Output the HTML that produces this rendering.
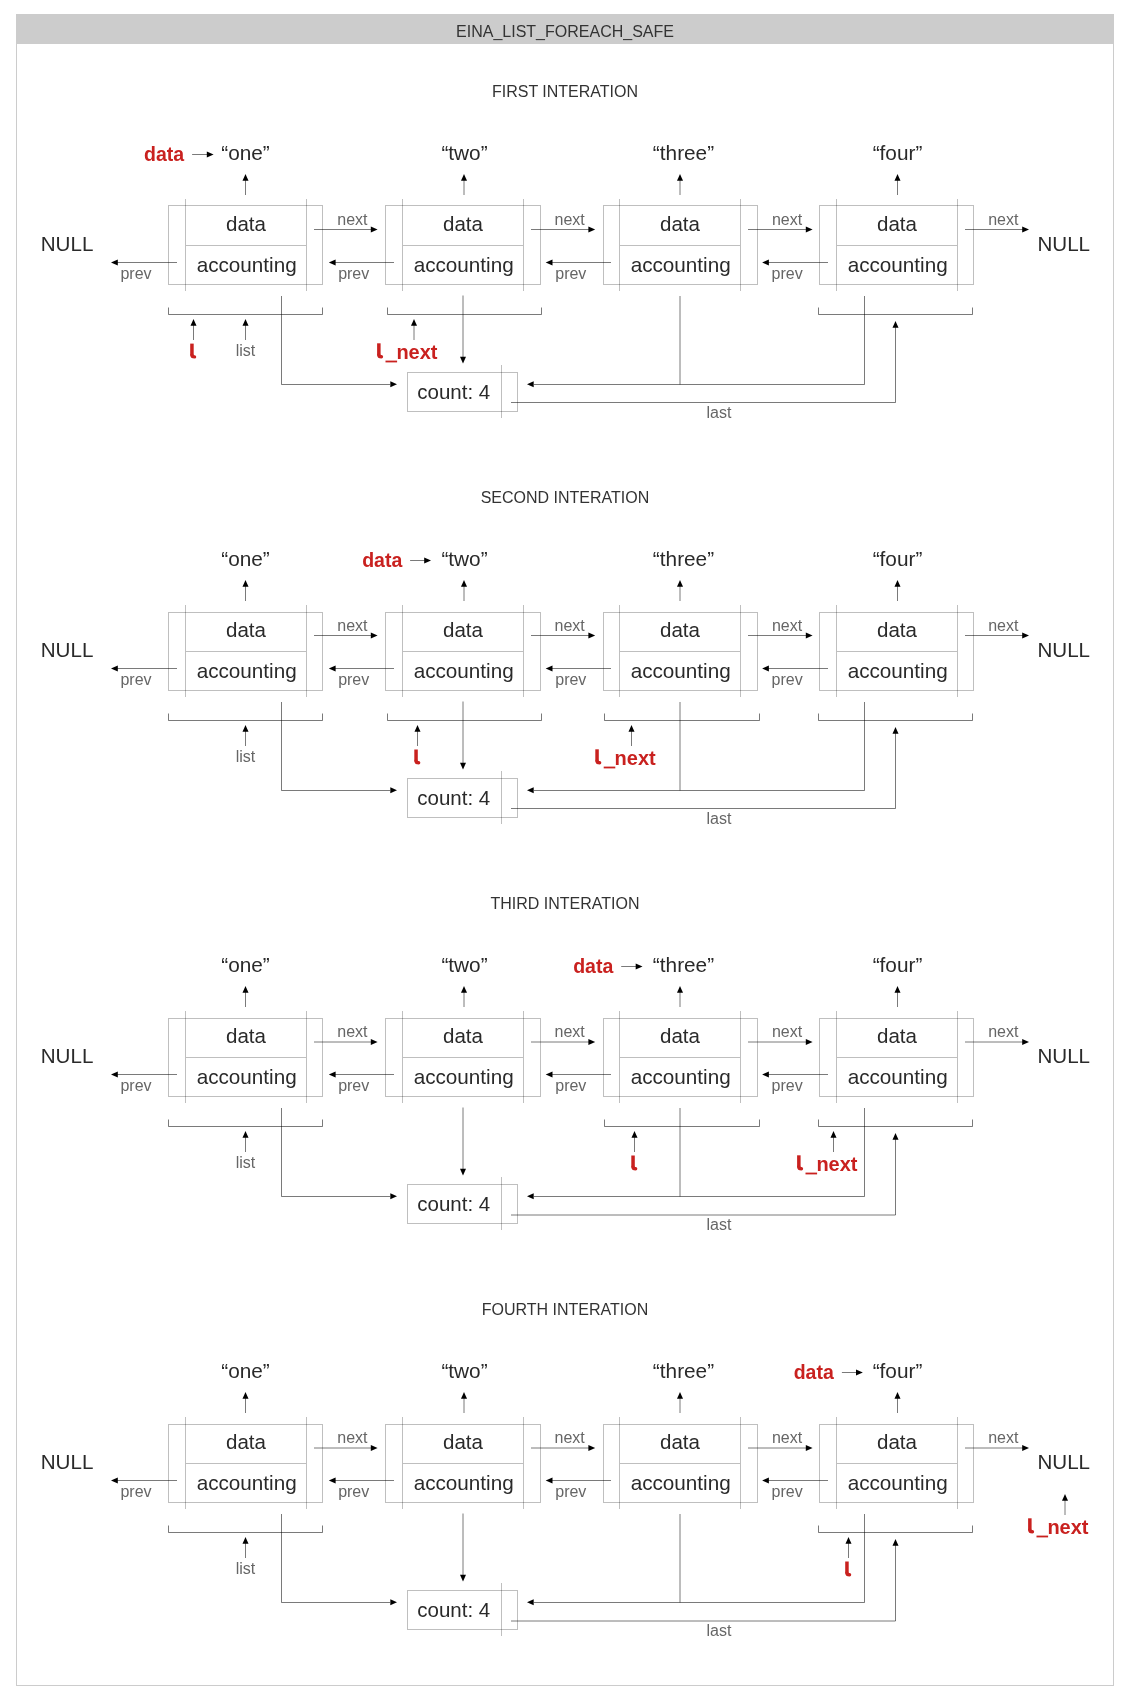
<!DOCTYPE html><html><head><meta charset="utf-8"><title>EINA_LIST_FOREACH_SAFE</title><style>html,body{margin:0;padding:0;background:#fff;overflow:hidden;width:1130px;height:1700px;}svg{display:block;will-change:transform;}text{font-family:"Liberation Sans",sans-serif;}</style></head><body><svg width="1130" height="1700" viewBox="0 0 1130 1700" font-family="Liberation Sans, sans-serif"><rect width="1130" height="1700" fill="#fff"/><rect x="16" y="14" width="1098" height="30" fill="#ccc"/><rect x="16.5" y="14.5" width="1097" height="1671" fill="none" stroke="#ccc"/><text x="565" y="36.8" font-size="16" fill="#333" text-anchor="middle">EINA_LIST_FOREACH_SAFE</text><g transform="translate(0 0)"><text x="565" y="97" font-size="16" fill="#333" text-anchor="middle">FIRST INTERATION</text><text x="245.5" y="160" font-size="20.8" fill="#2a2a2a" text-anchor="middle">“one”</text><path d="M245.5 179.8V195" stroke="#000" stroke-opacity=".52"/><path d="M245.5 174L242.5 180.8L248.5 180.8Z" fill="#000"/><text x="464.5" y="160" font-size="20.8" fill="#2a2a2a" text-anchor="middle">“two”</text><path d="M464 179.8V195" stroke="#000" stroke-opacity=".52"/><path d="M464 174L461.0 180.8L467.0 180.8Z" fill="#000"/><text x="683.5" y="160" font-size="20.8" fill="#2a2a2a" text-anchor="middle">“three”</text><path d="M680 179.8V195" stroke="#000" stroke-opacity=".52"/><path d="M680 174L677.0 180.8L683.0 180.8Z" fill="#000"/><text x="897.5" y="160" font-size="20.8" fill="#2a2a2a" text-anchor="middle">“four”</text><path d="M897.5 179.8V195" stroke="#000" stroke-opacity=".52"/><path d="M897.5 174L894.5 180.8L900.5 180.8Z" fill="#000"/><text x="144.1" y="161" font-size="19.5" fill="#c9211f" text-anchor="start" font-weight="bold">data</text><path d="M192.1 154.5H207.79999999999998" stroke="#000" stroke-opacity=".52"/><path d="M213.6 154.5L206.79999999999998 151.5L206.79999999999998 157.5Z" fill="#000"/><rect x="168.5" y="205.5" width="154" height="79.0" fill="none" stroke="#000" stroke-opacity="0.25"/><path d="M185.5 199V291M306.5 199V291M186 245.5H306" fill="none" stroke="#000" stroke-opacity="0.25"/><text x="246.0" y="231" font-size="20.5" fill="#2a2a2a" text-anchor="middle">data</text><text x="246.7" y="272" font-size="20.7" fill="#2a2a2a" text-anchor="middle">accounting</text><rect x="385.5" y="205.5" width="155" height="79.0" fill="none" stroke="#000" stroke-opacity="0.25"/><path d="M402.5 199V291M523.5 199V291M403 245.5H523" fill="none" stroke="#000" stroke-opacity="0.25"/><text x="463.0" y="231" font-size="20.5" fill="#2a2a2a" text-anchor="middle">data</text><text x="463.7" y="272" font-size="20.7" fill="#2a2a2a" text-anchor="middle">accounting</text><rect x="603.5" y="205.5" width="154" height="79.0" fill="none" stroke="#000" stroke-opacity="0.25"/><path d="M619.5 199V291M740.5 199V291M620 245.5H740" fill="none" stroke="#000" stroke-opacity="0.25"/><text x="680.0" y="231" font-size="20.5" fill="#2a2a2a" text-anchor="middle">data</text><text x="680.7" y="272" font-size="20.7" fill="#2a2a2a" text-anchor="middle">accounting</text><rect x="819.5" y="205.5" width="154" height="79.0" fill="none" stroke="#000" stroke-opacity="0.25"/><path d="M836.5 199V291M957.5 199V291M837 245.5H957" fill="none" stroke="#000" stroke-opacity="0.25"/><text x="897.0" y="231" font-size="20.5" fill="#2a2a2a" text-anchor="middle">data</text><text x="897.7" y="272" font-size="20.7" fill="#2a2a2a" text-anchor="middle">accounting</text><path d="M314 229.5H371.8" stroke="#000" stroke-opacity=".52"/><path d="M377.6 229.5L370.8 226.5L370.8 232.5Z" fill="#000"/><text x="352.4" y="224.5" font-size="16" fill="#666" text-anchor="middle">next</text><path d="M531 229.5H589.4000000000001" stroke="#000" stroke-opacity=".52"/><path d="M595.2 229.5L588.4000000000001 226.5L588.4000000000001 232.5Z" fill="#000"/><text x="569.7" y="224.5" font-size="16" fill="#666" text-anchor="middle">next</text><path d="M748 229.5H806.8000000000001" stroke="#000" stroke-opacity=".52"/><path d="M812.6 229.5L805.8000000000001 226.5L805.8000000000001 232.5Z" fill="#000"/><text x="787" y="224.5" font-size="16" fill="#666" text-anchor="middle">next</text><path d="M965 229.5H1023.2" stroke="#000" stroke-opacity=".52"/><path d="M1029 229.5L1022.2 226.5L1022.2 232.5Z" fill="#000"/><text x="1003.3" y="224.5" font-size="16" fill="#666" text-anchor="middle">next</text><path d="M116.8 262.5H177" stroke="#000" stroke-opacity=".52"/><path d="M111 262.5L117.8 259.5L117.8 265.5Z" fill="#000"/><text x="136" y="278.5" font-size="16" fill="#666" text-anchor="middle">prev</text><path d="M334.6 262.5H394" stroke="#000" stroke-opacity=".52"/><path d="M328.8 262.5L335.6 259.5L335.6 265.5Z" fill="#000"/><text x="353.7" y="278.5" font-size="16" fill="#666" text-anchor="middle">prev</text><path d="M551.5 262.5H611" stroke="#000" stroke-opacity=".52"/><path d="M545.7 262.5L552.5 259.5L552.5 265.5Z" fill="#000"/><text x="570.8" y="278.5" font-size="16" fill="#666" text-anchor="middle">prev</text><path d="M767.9 262.5H828" stroke="#000" stroke-opacity=".52"/><path d="M762.1 262.5L768.9 259.5L768.9 265.5Z" fill="#000"/><text x="787.1" y="278.5" font-size="16" fill="#666" text-anchor="middle">prev</text><text x="40.7" y="250.8" font-size="20.6" fill="#2a2a2a" text-anchor="start">NULL</text><text x="1037.4" y="250.8" font-size="20.6" fill="#2a2a2a" text-anchor="start">NULL</text><path d="M168.5 307.5V314.5H322.5V307.5" stroke="#000" stroke-opacity=".52" fill="none"/><path d="M387.5 307.5V314.5H541.5V307.5" stroke="#000" stroke-opacity=".52" fill="none"/><path d="M818.5 307.5V314.5H972.5V307.5" stroke="#000" stroke-opacity=".52" fill="none"/><path d="M281.5 296V384.5H390" stroke="#000" stroke-opacity=".52" fill="none"/><path d="M397 384.3L390.3 381.3L390.3 387.3Z" fill="#000"/><path d="M463 295.5V357.7" stroke="#000" stroke-opacity=".52"/><path d="M463 363.5L460.0 356.7L466.0 356.7Z" fill="#000"/><path d="M680 296V384.5" stroke="#000" stroke-opacity=".52" /><path d="M864.5 296V384.5H534" stroke="#000" stroke-opacity=".52" fill="none"/><path d="M527 384.3L533.7 381.3L533.7 387.3Z" fill="#000"/><rect x="407.5" y="372.5" width="110" height="39" fill="none" stroke="#000" stroke-opacity="0.25"/><path d="M501.5 365V418" fill="none" stroke="#000" stroke-opacity="0.25"/><text x="417.3" y="399" font-size="20.5" fill="#2a2a2a" text-anchor="start">count: 4</text><path d="M511 402.5H895.5V327" stroke="#000" stroke-opacity=".52" fill="none"/><path d="M895.5 321L892.5 327.8L898.5 327.8Z" fill="#000"/><text x="719" y="418" font-size="16" fill="#666" text-anchor="middle">last</text><path d="M245.5 324.8V340" stroke="#000" stroke-opacity=".52"/><path d="M245.5 319L242.5 325.8L248.5 325.8Z" fill="#000"/><text x="245.5" y="355.7" font-size="16" fill="#666" text-anchor="middle">list</text><path d="M193.5 324.8V340" stroke="#000" stroke-opacity=".52"/><path d="M193.5 319L190.5 325.8L196.5 325.8Z" fill="#000"/><path d="M191.95 343.6V355.6" stroke="#c9211f" stroke-width="3.5" fill="none"/><path d="M191.95 355.1Q191.95 356.90000000000003 194.54999999999998 356.90000000000003" stroke="#c9211f" stroke-width="3.4" fill="none" stroke-linecap="round"/><path d="M414 324.8V340" stroke="#000" stroke-opacity=".52"/><path d="M414 319L411.0 325.8L417.0 325.8Z" fill="#000"/><path d="M378.85 343.3V355.5" stroke="#c9211f" stroke-width="3.5" fill="none"/><path d="M378.85 355.0Q378.85 356.8 381.45000000000005 356.8" stroke="#c9211f" stroke-width="3.4" fill="none" stroke-linecap="round"/><rect x="385.50" y="360.60" width="11.6" height="1.8" fill="#c9211f"/><text x="396.42" y="358.5" font-size="20" fill="#c9211f" text-anchor="start" font-weight="bold">next</text></g><g transform="translate(0 406)"><text x="565" y="97" font-size="16" fill="#333" text-anchor="middle">SECOND INTERATION</text><text x="245.5" y="160" font-size="20.8" fill="#2a2a2a" text-anchor="middle">“one”</text><path d="M245.5 179.8V195" stroke="#000" stroke-opacity=".52"/><path d="M245.5 174L242.5 180.8L248.5 180.8Z" fill="#000"/><text x="464.5" y="160" font-size="20.8" fill="#2a2a2a" text-anchor="middle">“two”</text><path d="M464 179.8V195" stroke="#000" stroke-opacity=".52"/><path d="M464 174L461.0 180.8L467.0 180.8Z" fill="#000"/><text x="683.5" y="160" font-size="20.8" fill="#2a2a2a" text-anchor="middle">“three”</text><path d="M680 179.8V195" stroke="#000" stroke-opacity=".52"/><path d="M680 174L677.0 180.8L683.0 180.8Z" fill="#000"/><text x="897.5" y="160" font-size="20.8" fill="#2a2a2a" text-anchor="middle">“four”</text><path d="M897.5 179.8V195" stroke="#000" stroke-opacity=".52"/><path d="M897.5 174L894.5 180.8L900.5 180.8Z" fill="#000"/><text x="362.2" y="161" font-size="19.5" fill="#c9211f" text-anchor="start" font-weight="bold">data</text><path d="M410.1 154.5H425.2" stroke="#000" stroke-opacity=".52"/><path d="M431 154.5L424.2 151.5L424.2 157.5Z" fill="#000"/><rect x="168.5" y="206.5" width="154" height="78.0" fill="none" stroke="#000" stroke-opacity="0.25"/><path d="M185.5 199V291M306.5 199V291M186 245.5H306" fill="none" stroke="#000" stroke-opacity="0.25"/><text x="246.0" y="231" font-size="20.5" fill="#2a2a2a" text-anchor="middle">data</text><text x="246.7" y="272" font-size="20.7" fill="#2a2a2a" text-anchor="middle">accounting</text><rect x="385.5" y="206.5" width="155" height="78.0" fill="none" stroke="#000" stroke-opacity="0.25"/><path d="M402.5 199V291M523.5 199V291M403 245.5H523" fill="none" stroke="#000" stroke-opacity="0.25"/><text x="463.0" y="231" font-size="20.5" fill="#2a2a2a" text-anchor="middle">data</text><text x="463.7" y="272" font-size="20.7" fill="#2a2a2a" text-anchor="middle">accounting</text><rect x="603.5" y="206.5" width="154" height="78.0" fill="none" stroke="#000" stroke-opacity="0.25"/><path d="M619.5 199V291M740.5 199V291M620 245.5H740" fill="none" stroke="#000" stroke-opacity="0.25"/><text x="680.0" y="231" font-size="20.5" fill="#2a2a2a" text-anchor="middle">data</text><text x="680.7" y="272" font-size="20.7" fill="#2a2a2a" text-anchor="middle">accounting</text><rect x="819.5" y="206.5" width="154" height="78.0" fill="none" stroke="#000" stroke-opacity="0.25"/><path d="M836.5 199V291M957.5 199V291M837 245.5H957" fill="none" stroke="#000" stroke-opacity="0.25"/><text x="897.0" y="231" font-size="20.5" fill="#2a2a2a" text-anchor="middle">data</text><text x="897.7" y="272" font-size="20.7" fill="#2a2a2a" text-anchor="middle">accounting</text><path d="M314 229.5H371.8" stroke="#000" stroke-opacity=".52"/><path d="M377.6 229.5L370.8 226.5L370.8 232.5Z" fill="#000"/><text x="352.4" y="224.5" font-size="16" fill="#666" text-anchor="middle">next</text><path d="M531 229.5H589.4000000000001" stroke="#000" stroke-opacity=".52"/><path d="M595.2 229.5L588.4000000000001 226.5L588.4000000000001 232.5Z" fill="#000"/><text x="569.7" y="224.5" font-size="16" fill="#666" text-anchor="middle">next</text><path d="M748 229.5H806.8000000000001" stroke="#000" stroke-opacity=".52"/><path d="M812.6 229.5L805.8000000000001 226.5L805.8000000000001 232.5Z" fill="#000"/><text x="787" y="224.5" font-size="16" fill="#666" text-anchor="middle">next</text><path d="M965 229.5H1023.2" stroke="#000" stroke-opacity=".52"/><path d="M1029 229.5L1022.2 226.5L1022.2 232.5Z" fill="#000"/><text x="1003.3" y="224.5" font-size="16" fill="#666" text-anchor="middle">next</text><path d="M116.8 262.5H177" stroke="#000" stroke-opacity=".52"/><path d="M111 262.5L117.8 259.5L117.8 265.5Z" fill="#000"/><text x="136" y="278.5" font-size="16" fill="#666" text-anchor="middle">prev</text><path d="M334.6 262.5H394" stroke="#000" stroke-opacity=".52"/><path d="M328.8 262.5L335.6 259.5L335.6 265.5Z" fill="#000"/><text x="353.7" y="278.5" font-size="16" fill="#666" text-anchor="middle">prev</text><path d="M551.5 262.5H611" stroke="#000" stroke-opacity=".52"/><path d="M545.7 262.5L552.5 259.5L552.5 265.5Z" fill="#000"/><text x="570.8" y="278.5" font-size="16" fill="#666" text-anchor="middle">prev</text><path d="M767.9 262.5H828" stroke="#000" stroke-opacity=".52"/><path d="M762.1 262.5L768.9 259.5L768.9 265.5Z" fill="#000"/><text x="787.1" y="278.5" font-size="16" fill="#666" text-anchor="middle">prev</text><text x="40.7" y="250.8" font-size="20.6" fill="#2a2a2a" text-anchor="start">NULL</text><text x="1037.4" y="250.8" font-size="20.6" fill="#2a2a2a" text-anchor="start">NULL</text><path d="M168.5 307.5V314.5H322.5V307.5" stroke="#000" stroke-opacity=".52" fill="none"/><path d="M387.5 307.5V314.5H541.5V307.5" stroke="#000" stroke-opacity=".52" fill="none"/><path d="M604.5 307.5V314.5H759.5V307.5" stroke="#000" stroke-opacity=".52" fill="none"/><path d="M818.5 307.5V314.5H972.5V307.5" stroke="#000" stroke-opacity=".52" fill="none"/><path d="M281.5 296V384.5H390" stroke="#000" stroke-opacity=".52" fill="none"/><path d="M397 384.3L390.3 381.3L390.3 387.3Z" fill="#000"/><path d="M463 295.5V357.7" stroke="#000" stroke-opacity=".52"/><path d="M463 363.5L460.0 356.7L466.0 356.7Z" fill="#000"/><path d="M680 296V384.5" stroke="#000" stroke-opacity=".52" /><path d="M864.5 296V384.5H534" stroke="#000" stroke-opacity=".52" fill="none"/><path d="M527 384.3L533.7 381.3L533.7 387.3Z" fill="#000"/><rect x="407.5" y="372.5" width="110" height="39" fill="none" stroke="#000" stroke-opacity="0.25"/><path d="M501.5 365V418" fill="none" stroke="#000" stroke-opacity="0.25"/><text x="417.3" y="399" font-size="20.5" fill="#2a2a2a" text-anchor="start">count: 4</text><path d="M511 402.5H895.5V327" stroke="#000" stroke-opacity=".52" fill="none"/><path d="M895.5 321L892.5 327.8L898.5 327.8Z" fill="#000"/><text x="719" y="418" font-size="16" fill="#666" text-anchor="middle">last</text><path d="M245.5 324.8V340" stroke="#000" stroke-opacity=".52"/><path d="M245.5 319L242.5 325.8L248.5 325.8Z" fill="#000"/><text x="245.5" y="355.7" font-size="16" fill="#666" text-anchor="middle">list</text><path d="M417.5 324.8V340" stroke="#000" stroke-opacity=".52"/><path d="M417.5 319L414.5 325.8L420.5 325.8Z" fill="#000"/><path d="M416.05 343.5V355.5" stroke="#c9211f" stroke-width="3.5" fill="none"/><path d="M416.05 355.0Q416.05 356.8 418.65000000000003 356.8" stroke="#c9211f" stroke-width="3.4" fill="none" stroke-linecap="round"/><path d="M631.5 324.8V340" stroke="#000" stroke-opacity=".52"/><path d="M631.5 319L628.5 325.8L634.5 325.8Z" fill="#000"/><path d="M597.05 343.3V355.5" stroke="#c9211f" stroke-width="3.5" fill="none"/><path d="M597.05 355.0Q597.05 356.8 599.65 356.8" stroke="#c9211f" stroke-width="3.4" fill="none" stroke-linecap="round"/><rect x="603.70" y="360.60" width="11.6" height="1.8" fill="#c9211f"/><text x="614.62" y="358.5" font-size="20" fill="#c9211f" text-anchor="start" font-weight="bold">next</text></g><g transform="translate(0 812)"><text x="565" y="97" font-size="16" fill="#333" text-anchor="middle">THIRD INTERATION</text><text x="245.5" y="160" font-size="20.8" fill="#2a2a2a" text-anchor="middle">“one”</text><path d="M245.5 179.8V195" stroke="#000" stroke-opacity=".52"/><path d="M245.5 174L242.5 180.8L248.5 180.8Z" fill="#000"/><text x="464.5" y="160" font-size="20.8" fill="#2a2a2a" text-anchor="middle">“two”</text><path d="M464 179.8V195" stroke="#000" stroke-opacity=".52"/><path d="M464 174L461.0 180.8L467.0 180.8Z" fill="#000"/><text x="683.5" y="160" font-size="20.8" fill="#2a2a2a" text-anchor="middle">“three”</text><path d="M680 179.8V195" stroke="#000" stroke-opacity=".52"/><path d="M680 174L677.0 180.8L683.0 180.8Z" fill="#000"/><text x="897.5" y="160" font-size="20.8" fill="#2a2a2a" text-anchor="middle">“four”</text><path d="M897.5 179.8V195" stroke="#000" stroke-opacity=".52"/><path d="M897.5 174L894.5 180.8L900.5 180.8Z" fill="#000"/><text x="573.2" y="161" font-size="19.5" fill="#c9211f" text-anchor="start" font-weight="bold">data</text><path d="M621.2 154.5H636.7" stroke="#000" stroke-opacity=".52"/><path d="M642.5 154.5L635.7 151.5L635.7 157.5Z" fill="#000"/><rect x="168.5" y="206.5" width="154" height="78.0" fill="none" stroke="#000" stroke-opacity="0.25"/><path d="M185.5 199V291M306.5 199V291M186 245.5H306" fill="none" stroke="#000" stroke-opacity="0.25"/><text x="246.0" y="231" font-size="20.5" fill="#2a2a2a" text-anchor="middle">data</text><text x="246.7" y="272" font-size="20.7" fill="#2a2a2a" text-anchor="middle">accounting</text><rect x="385.5" y="206.5" width="155" height="78.0" fill="none" stroke="#000" stroke-opacity="0.25"/><path d="M402.5 199V291M523.5 199V291M403 245.5H523" fill="none" stroke="#000" stroke-opacity="0.25"/><text x="463.0" y="231" font-size="20.5" fill="#2a2a2a" text-anchor="middle">data</text><text x="463.7" y="272" font-size="20.7" fill="#2a2a2a" text-anchor="middle">accounting</text><rect x="603.5" y="206.5" width="154" height="78.0" fill="none" stroke="#000" stroke-opacity="0.25"/><path d="M619.5 199V291M740.5 199V291M620 245.5H740" fill="none" stroke="#000" stroke-opacity="0.25"/><text x="680.0" y="231" font-size="20.5" fill="#2a2a2a" text-anchor="middle">data</text><text x="680.7" y="272" font-size="20.7" fill="#2a2a2a" text-anchor="middle">accounting</text><rect x="819.5" y="206.5" width="154" height="78.0" fill="none" stroke="#000" stroke-opacity="0.25"/><path d="M836.5 199V291M957.5 199V291M837 245.5H957" fill="none" stroke="#000" stroke-opacity="0.25"/><text x="897.0" y="231" font-size="20.5" fill="#2a2a2a" text-anchor="middle">data</text><text x="897.7" y="272" font-size="20.7" fill="#2a2a2a" text-anchor="middle">accounting</text><path d="M314 230H371.8" stroke="#000" stroke-opacity=".52"/><path d="M377.6 230L370.8 227.0L370.8 233.0Z" fill="#000"/><text x="352.4" y="224.5" font-size="16" fill="#666" text-anchor="middle">next</text><path d="M531 230H589.4000000000001" stroke="#000" stroke-opacity=".52"/><path d="M595.2 230L588.4000000000001 227.0L588.4000000000001 233.0Z" fill="#000"/><text x="569.7" y="224.5" font-size="16" fill="#666" text-anchor="middle">next</text><path d="M748 230H806.8000000000001" stroke="#000" stroke-opacity=".52"/><path d="M812.6 230L805.8000000000001 227.0L805.8000000000001 233.0Z" fill="#000"/><text x="787" y="224.5" font-size="16" fill="#666" text-anchor="middle">next</text><path d="M965 230H1023.2" stroke="#000" stroke-opacity=".52"/><path d="M1029 230L1022.2 227.0L1022.2 233.0Z" fill="#000"/><text x="1003.3" y="224.5" font-size="16" fill="#666" text-anchor="middle">next</text><path d="M116.8 262.5H177" stroke="#000" stroke-opacity=".52"/><path d="M111 262.5L117.8 259.5L117.8 265.5Z" fill="#000"/><text x="136" y="278.5" font-size="16" fill="#666" text-anchor="middle">prev</text><path d="M334.6 262.5H394" stroke="#000" stroke-opacity=".52"/><path d="M328.8 262.5L335.6 259.5L335.6 265.5Z" fill="#000"/><text x="353.7" y="278.5" font-size="16" fill="#666" text-anchor="middle">prev</text><path d="M551.5 262.5H611" stroke="#000" stroke-opacity=".52"/><path d="M545.7 262.5L552.5 259.5L552.5 265.5Z" fill="#000"/><text x="570.8" y="278.5" font-size="16" fill="#666" text-anchor="middle">prev</text><path d="M767.9 262.5H828" stroke="#000" stroke-opacity=".52"/><path d="M762.1 262.5L768.9 259.5L768.9 265.5Z" fill="#000"/><text x="787.1" y="278.5" font-size="16" fill="#666" text-anchor="middle">prev</text><text x="40.7" y="250.8" font-size="20.6" fill="#2a2a2a" text-anchor="start">NULL</text><text x="1037.4" y="250.8" font-size="20.6" fill="#2a2a2a" text-anchor="start">NULL</text><path d="M168.5 307.5V314.5H322.5V307.5" stroke="#000" stroke-opacity=".52" fill="none"/><path d="M604.5 307.5V314.5H759.5V307.5" stroke="#000" stroke-opacity=".52" fill="none"/><path d="M818.5 307.5V314.5H972.5V307.5" stroke="#000" stroke-opacity=".52" fill="none"/><path d="M281.5 296V384.5H390" stroke="#000" stroke-opacity=".52" fill="none"/><path d="M397 384.3L390.3 381.3L390.3 387.3Z" fill="#000"/><path d="M463 295.5V357.7" stroke="#000" stroke-opacity=".52"/><path d="M463 363.5L460.0 356.7L466.0 356.7Z" fill="#000"/><path d="M680 296V384.5" stroke="#000" stroke-opacity=".52" /><path d="M864.5 296V384.5H534" stroke="#000" stroke-opacity=".52" fill="none"/><path d="M527 384.3L533.7 381.3L533.7 387.3Z" fill="#000"/><rect x="407.5" y="372.5" width="110" height="39" fill="none" stroke="#000" stroke-opacity="0.25"/><path d="M501.5 365V418" fill="none" stroke="#000" stroke-opacity="0.25"/><text x="417.3" y="399" font-size="20.5" fill="#2a2a2a" text-anchor="start">count: 4</text><path d="M511 403H895.5V327" stroke="#000" stroke-opacity=".52" fill="none"/><path d="M895.5 321L892.5 327.8L898.5 327.8Z" fill="#000"/><text x="719" y="418" font-size="16" fill="#666" text-anchor="middle">last</text><path d="M245.5 324.8V340" stroke="#000" stroke-opacity=".52"/><path d="M245.5 319L242.5 325.8L248.5 325.8Z" fill="#000"/><text x="245.5" y="355.7" font-size="16" fill="#666" text-anchor="middle">list</text><path d="M634.5 324.8V340" stroke="#000" stroke-opacity=".52"/><path d="M634.5 319L631.5 325.8L637.5 325.8Z" fill="#000"/><path d="M633.05 343.5V355.5" stroke="#c9211f" stroke-width="3.5" fill="none"/><path d="M633.05 355.0Q633.05 356.8 635.65 356.8" stroke="#c9211f" stroke-width="3.4" fill="none" stroke-linecap="round"/><path d="M833.5 324.8V340" stroke="#000" stroke-opacity=".52"/><path d="M833.5 319L830.5 325.8L836.5 325.8Z" fill="#000"/><path d="M798.85 343.3V355.5" stroke="#c9211f" stroke-width="3.5" fill="none"/><path d="M798.85 355.0Q798.85 356.8 801.45 356.8" stroke="#c9211f" stroke-width="3.4" fill="none" stroke-linecap="round"/><rect x="805.50" y="360.60" width="11.6" height="1.8" fill="#c9211f"/><text x="816.42" y="358.5" font-size="20" fill="#c9211f" text-anchor="start" font-weight="bold">next</text></g><g transform="translate(0 1218)"><text x="565" y="97" font-size="16" fill="#333" text-anchor="middle">FOURTH INTERATION</text><text x="245.5" y="160" font-size="20.8" fill="#2a2a2a" text-anchor="middle">“one”</text><path d="M245.5 179.8V195" stroke="#000" stroke-opacity=".52"/><path d="M245.5 174L242.5 180.8L248.5 180.8Z" fill="#000"/><text x="464.5" y="160" font-size="20.8" fill="#2a2a2a" text-anchor="middle">“two”</text><path d="M464 179.8V195" stroke="#000" stroke-opacity=".52"/><path d="M464 174L461.0 180.8L467.0 180.8Z" fill="#000"/><text x="683.5" y="160" font-size="20.8" fill="#2a2a2a" text-anchor="middle">“three”</text><path d="M680 179.8V195" stroke="#000" stroke-opacity=".52"/><path d="M680 174L677.0 180.8L683.0 180.8Z" fill="#000"/><text x="897.5" y="160" font-size="20.8" fill="#2a2a2a" text-anchor="middle">“four”</text><path d="M897.5 179.8V195" stroke="#000" stroke-opacity=".52"/><path d="M897.5 174L894.5 180.8L900.5 180.8Z" fill="#000"/><text x="793.7" y="161" font-size="19.5" fill="#c9211f" text-anchor="start" font-weight="bold">data</text><path d="M841.9 154.5H857.0" stroke="#000" stroke-opacity=".52"/><path d="M862.8 154.5L856.0 151.5L856.0 157.5Z" fill="#000"/><rect x="168.5" y="206.5" width="154" height="78.0" fill="none" stroke="#000" stroke-opacity="0.25"/><path d="M185.5 199V291M306.5 199V291M186 245.5H306" fill="none" stroke="#000" stroke-opacity="0.25"/><text x="246.0" y="231" font-size="20.5" fill="#2a2a2a" text-anchor="middle">data</text><text x="246.7" y="272" font-size="20.7" fill="#2a2a2a" text-anchor="middle">accounting</text><rect x="385.5" y="206.5" width="155" height="78.0" fill="none" stroke="#000" stroke-opacity="0.25"/><path d="M402.5 199V291M523.5 199V291M403 245.5H523" fill="none" stroke="#000" stroke-opacity="0.25"/><text x="463.0" y="231" font-size="20.5" fill="#2a2a2a" text-anchor="middle">data</text><text x="463.7" y="272" font-size="20.7" fill="#2a2a2a" text-anchor="middle">accounting</text><rect x="603.5" y="206.5" width="154" height="78.0" fill="none" stroke="#000" stroke-opacity="0.25"/><path d="M619.5 199V291M740.5 199V291M620 245.5H740" fill="none" stroke="#000" stroke-opacity="0.25"/><text x="680.0" y="231" font-size="20.5" fill="#2a2a2a" text-anchor="middle">data</text><text x="680.7" y="272" font-size="20.7" fill="#2a2a2a" text-anchor="middle">accounting</text><rect x="819.5" y="206.5" width="154" height="78.0" fill="none" stroke="#000" stroke-opacity="0.25"/><path d="M836.5 199V291M957.5 199V291M837 245.5H957" fill="none" stroke="#000" stroke-opacity="0.25"/><text x="897.0" y="231" font-size="20.5" fill="#2a2a2a" text-anchor="middle">data</text><text x="897.7" y="272" font-size="20.7" fill="#2a2a2a" text-anchor="middle">accounting</text><path d="M314 230H371.8" stroke="#000" stroke-opacity=".52"/><path d="M377.6 230L370.8 227.0L370.8 233.0Z" fill="#000"/><text x="352.4" y="224.5" font-size="16" fill="#666" text-anchor="middle">next</text><path d="M531 230H589.4000000000001" stroke="#000" stroke-opacity=".52"/><path d="M595.2 230L588.4000000000001 227.0L588.4000000000001 233.0Z" fill="#000"/><text x="569.7" y="224.5" font-size="16" fill="#666" text-anchor="middle">next</text><path d="M748 230H806.8000000000001" stroke="#000" stroke-opacity=".52"/><path d="M812.6 230L805.8000000000001 227.0L805.8000000000001 233.0Z" fill="#000"/><text x="787" y="224.5" font-size="16" fill="#666" text-anchor="middle">next</text><path d="M965 230H1023.2" stroke="#000" stroke-opacity=".52"/><path d="M1029 230L1022.2 227.0L1022.2 233.0Z" fill="#000"/><text x="1003.3" y="224.5" font-size="16" fill="#666" text-anchor="middle">next</text><path d="M116.8 262.5H177" stroke="#000" stroke-opacity=".52"/><path d="M111 262.5L117.8 259.5L117.8 265.5Z" fill="#000"/><text x="136" y="278.5" font-size="16" fill="#666" text-anchor="middle">prev</text><path d="M334.6 262.5H394" stroke="#000" stroke-opacity=".52"/><path d="M328.8 262.5L335.6 259.5L335.6 265.5Z" fill="#000"/><text x="353.7" y="278.5" font-size="16" fill="#666" text-anchor="middle">prev</text><path d="M551.5 262.5H611" stroke="#000" stroke-opacity=".52"/><path d="M545.7 262.5L552.5 259.5L552.5 265.5Z" fill="#000"/><text x="570.8" y="278.5" font-size="16" fill="#666" text-anchor="middle">prev</text><path d="M767.9 262.5H828" stroke="#000" stroke-opacity=".52"/><path d="M762.1 262.5L768.9 259.5L768.9 265.5Z" fill="#000"/><text x="787.1" y="278.5" font-size="16" fill="#666" text-anchor="middle">prev</text><text x="40.7" y="250.8" font-size="20.6" fill="#2a2a2a" text-anchor="start">NULL</text><text x="1037.4" y="250.8" font-size="20.6" fill="#2a2a2a" text-anchor="start">NULL</text><path d="M168.5 307.5V314.5H322.5V307.5" stroke="#000" stroke-opacity=".52" fill="none"/><path d="M818.5 307.5V314.5H972.5V307.5" stroke="#000" stroke-opacity=".52" fill="none"/><path d="M281.5 296V384.5H390" stroke="#000" stroke-opacity=".52" fill="none"/><path d="M397 384.3L390.3 381.3L390.3 387.3Z" fill="#000"/><path d="M463 295.5V357.7" stroke="#000" stroke-opacity=".52"/><path d="M463 363.5L460.0 356.7L466.0 356.7Z" fill="#000"/><path d="M680 296V384.5" stroke="#000" stroke-opacity=".52" /><path d="M864.5 296V384.5H534" stroke="#000" stroke-opacity=".52" fill="none"/><path d="M527 384.3L533.7 381.3L533.7 387.3Z" fill="#000"/><rect x="407.5" y="372.5" width="110" height="39" fill="none" stroke="#000" stroke-opacity="0.25"/><path d="M501.5 365V418" fill="none" stroke="#000" stroke-opacity="0.25"/><text x="417.3" y="399" font-size="20.5" fill="#2a2a2a" text-anchor="start">count: 4</text><path d="M511 403H895.5V327" stroke="#000" stroke-opacity=".52" fill="none"/><path d="M895.5 321L892.5 327.8L898.5 327.8Z" fill="#000"/><text x="719" y="418" font-size="16" fill="#666" text-anchor="middle">last</text><path d="M245.5 324.8V340" stroke="#000" stroke-opacity=".52"/><path d="M245.5 319L242.5 325.8L248.5 325.8Z" fill="#000"/><text x="245.5" y="355.7" font-size="16" fill="#666" text-anchor="middle">list</text><path d="M848.5 324.8V340" stroke="#000" stroke-opacity=".52"/><path d="M848.5 319L845.5 325.8L851.5 325.8Z" fill="#000"/><path d="M846.95 343.5V355.5" stroke="#c9211f" stroke-width="3.5" fill="none"/><path d="M846.95 355.0Q846.95 356.8 849.5500000000001 356.8" stroke="#c9211f" stroke-width="3.4" fill="none" stroke-linecap="round"/><path d="M1065 281.8V297" stroke="#000" stroke-opacity=".52"/><path d="M1065 276L1062.0 282.8L1068.0 282.8Z" fill="#000"/><path d="M1029.85 300.3V312.5" stroke="#c9211f" stroke-width="3.5" fill="none"/><path d="M1029.85 312.0Q1029.85 313.8 1032.4499999999998 313.8" stroke="#c9211f" stroke-width="3.4" fill="none" stroke-linecap="round"/><rect x="1036.50" y="317.60" width="11.6" height="1.8" fill="#c9211f"/><text x="1047.42" y="315.5" font-size="20" fill="#c9211f" text-anchor="start" font-weight="bold">next</text></g></svg></body></html>
